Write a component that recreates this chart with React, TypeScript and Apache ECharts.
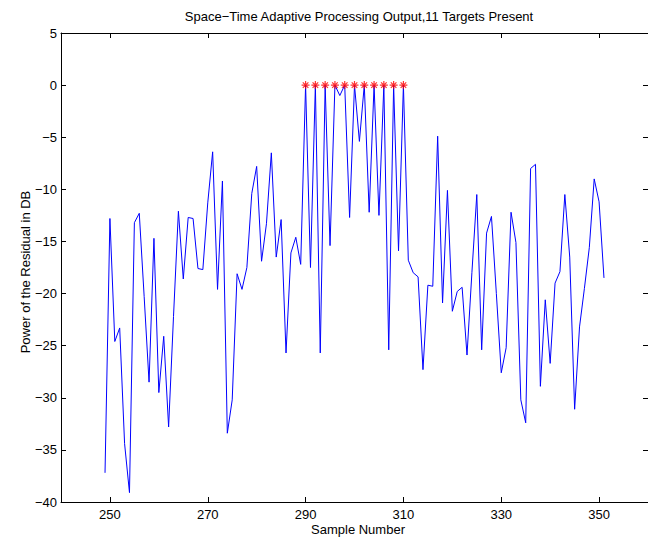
import React, { useEffect, useRef } from "react";
import * as echarts from "echarts";

const firstSample = 249;
const residualDb: number[] = [
  -37.2, -12.8, -24.6, -23.3, -34.4, -39.1, -13.2, -12.3, -20.3, -28.5,
  -14.7, -29.5, -24.1, -32.8, -22.2, -12.1, -18.6, -12.7, -12.8, -17.6,
  -17.7, -11.3, -6.4, -19.6, -9.2, -33.4, -30.2, -18.1, -19.6, -17.5,
  -10.4, -7.8, -16.9, -13.3, -6.5, -16.5, -12.9, -25.7, -16.1, -14.6,
  -17.2, 0, -17.5, 0, -25.7, 0, -15.4, 0, -1.0, 0,
  -12.7, 0, -5.4, 0, -12.2, 0, -12.5, 0, -25.4, 0,
  -15.9, 0, -16.8, -18.0, -18.4, -27.3, -19.2, -19.3, -4.9, -20.9,
  -10.1, -21.7, -19.8, -19.4, -25.9, -18.0, -10.5, -25.4, -14.2, -12.6,
  -20.0, -27.6, -25.2, -12.2, -15.1, -30.2, -32.4, -8.0, -7.6, -28.9,
  -20.6, -26.7, -19.0, -17.9, -10.5, -16.5, -31.1, -23.2, -19.5, -15.6,
  -9.0, -11.2, -18.5,
];
const targetSamples: number[] = [290, 292, 294, 296, 298, 300, 302, 304, 306, 308, 310];
const targetValues: number[] = [0, 0, 0, 0, 0, 0, 0, 0, 0, 0, 0];
const xTickValues: number[] = [250, 270, 290, 310, 330, 350];

const titleText = "Space\u2212Time Adaptive Processing Output,11 Targets Present";
const xLabel = "Sample Number";
const yLabel = "Power of the Residual in DB";

const FONT = "'Liberation Sans', Arial, Helvetica, sans-serif";
const STAR =
  "path://M5,0L5,10M0,5L10,5M1.5,1.5L8.5,8.5M1.5,8.5L8.5,1.5";

export default function App() {
  const ref = useRef<HTMLDivElement>(null);
  useEffect(() => {
    if (!ref.current) return;
    const chart = echarts.init(ref.current, null, { renderer: "svg" });
    const lineData = residualDb.map((v, i) => [firstSample + i, v]);
    const starData = targetSamples.map((s, i) => [s, targetValues[i]]);
    const tickCommon = {
      inside: true,
      length: 5,
      lineStyle: { color: "#000", width: 1 },
    };
    const axisLineCommon = { show: true, onZero: false, lineStyle: { color: "#000", width: 1 } };
    chart.setOption({
      animation: false,
      backgroundColor: "#ffffff",
      grid: { left: 61, top: 33, width: 595, height: 469, containLabel: false },
      xAxis: [
        {
          type: "value",
          min: 240,
          max: 360,
          interval: 10,
          position: "bottom",
          axisLine: axisLineCommon,
          axisTick: { ...tickCommon, customValues: xTickValues },
          axisLabel: {
            customValues: xTickValues,
            color: "#000",
            fontSize: 13,
            fontFamily: FONT,
            margin: 6,
          },
          splitLine: { show: false },
        },
        {
          type: "value",
          min: 240,
          max: 360,
          interval: 10,
          position: "top",
          axisLine: axisLineCommon,
          axisTick: { ...tickCommon, customValues: xTickValues },
          axisLabel: { show: false },
          splitLine: { show: false },
        },
      ],
      yAxis: [
        {
          type: "value",
          min: -40,
          max: 5,
          interval: 5,
          position: "left",
          axisLine: axisLineCommon,
          axisTick: tickCommon,
          axisLabel: {
            color: "#000",
            fontSize: 13,
            fontFamily: FONT,
            margin: 4,
            formatter: (v: number) => String(v).replace("-", "\u2212"),
          },
          splitLine: { show: false },
        },
        {
          type: "value",
          min: -40,
          max: 5,
          interval: 5,
          position: "right",
          axisLine: axisLineCommon,
          axisTick: tickCommon,
          axisLabel: { show: false },
          splitLine: { show: false },
        },
      ],
      series: [
        {
          type: "line",
          data: lineData,
          showSymbol: false,
          symbol: "none",
          lineStyle: { color: "#0000ff", width: 1 },
          z: 2,
        },
        {
          type: "scatter",
          data: starData,
          symbol: STAR,
          symbolSize: 8,
          itemStyle: { color: "none", borderColor: "#ff0000", borderWidth: 1.2 },
          z: 3,
        },
      ],
      graphic: [
        {
          type: "text",
          x: 359,
          y: 16,
          style: {
            text: titleText,
            fill: "#000",
            font: `13px ${FONT}`,
            textAlign: "center",
            textVerticalAlign: "middle",
          },
        },
        {
          type: "text",
          x: 358,
          y: 529,
          style: {
            text: xLabel,
            fill: "#000",
            font: `13px ${FONT}`,
            textAlign: "center",
            textVerticalAlign: "middle",
          },
        },
        {
          type: "text",
          x: 25,
          y: 272,
          rotation: Math.PI / 2,
          style: {
            text: yLabel,
            fill: "#000",
            font: `13px ${FONT}`,
            textAlign: "center",
            textVerticalAlign: "middle",
          },
        },
      ],
    });
    return () => chart.dispose();
  }, []);
  return (
    <div
      ref={ref}
      style={{ position: "fixed", left: 0, top: 0, width: 648, height: 537, background: "#fff" }}
    />
  );
}
